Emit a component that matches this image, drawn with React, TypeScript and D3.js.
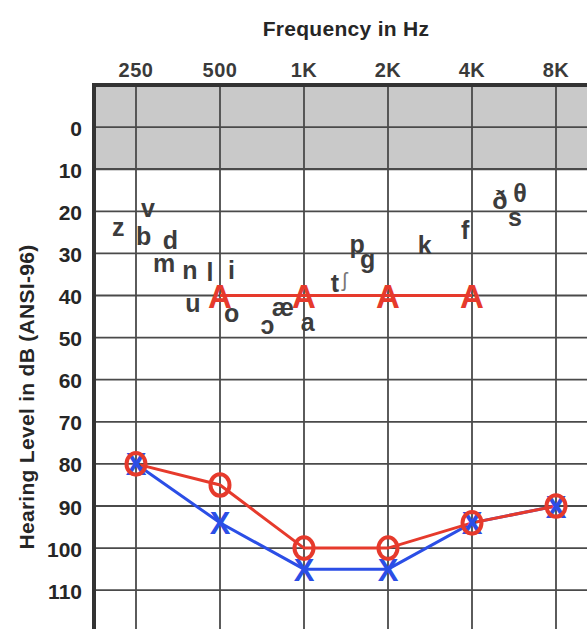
import React from 'react';
import * as d3 from 'd3';

const W = 587;
const H = 629;

// audiogram frequencies (Hz) and their labels
const freqs = [250, 500, 1000, 2000, 4000, 8000];
const freqLabels = ['250', '500', '1K', '2K', '4K', '8K'];
const dbTicks = [0, 10, 20, 30, 40, 50, 60, 70, 80, 90, 100, 110];

// thresholds
const circleDb = [80, 85, 100, 100, 94, 90];
const crossDb = [80, 94, 105, 105, 94, 90];
const aidedFreqs = [500, 1000, 2000, 4000];
const aidedDb = [40, 40, 40, 40];

// speech sounds (hz, db)
const phonemeSym = ['z', 'v', 'b', 'd', 'm', 'n', 'l', 'i', 'u', 'o', 'ɔ', 'æ', 'a', 't', 'ʃ', 'p', 'g', 'k', 'f', 'ð', 'θ', 's'];
const phonemeHz = [216, 276, 266, 332, 315, 390, 460, 550, 400, 550, 740, 840, 1030, 1290, 1400, 1550, 1690, 2710, 3780, 5030, 5940, 5700];
const phonemeDb = [23.8, 19.2, 25.9, 26.8, 32.3, 34, 34.4, 34, 41.8, 44.2, 47, 42.8, 46.3, 37, 36.3, 27.8, 31.4, 28, 24.5, 17.3, 15.7, 21.4];

const RED = '#e63a2c';
const BLUE = '#2b4ee6';
const INK = '#262626';
const FONT = '"Liberation Sans", Arial, sans-serif';

export default function App() {
  const left = 94;
  const right = 598;
  const top = 85;

  const x = d3.scaleLog().base(2)
    .domain([250 / Math.SQRT2, 8000 * Math.SQRT2])
    .range([left, right]);
  const y = d3.scaleLinear().domain([-10, 120]).range([top, top + 130 * 4.21]);

  const line = d3.line<[number, number]>()
    .x(d => x(d[0]))
    .y(d => y(d[1]));

  const circlePts = freqs.map((f, i) => [f, circleDb[i]] as [number, number]);
  const crossPts = freqs.map((f, i) => [f, crossDb[i]] as [number, number]);
  const aidedPts = aidedFreqs.map((f, i) => [f, aidedDb[i]] as [number, number]);

  const gridColor = '#4a4a4a';

  return (
    <svg width={W} height={H} style={{ position: 'absolute', left: 0, top: 0 }} fontFamily={FONT}>
      <rect width={W} height={H} fill="#fff" />

      {/* shaded region above 10 dB */}
      <rect x={left} y={y(-10)} width={right - left} height={y(10) - y(-10)} fill="#c9c9c9" />

      {/* grid */}
      {freqs.map(f => (
        <line key={f} x1={x(f)} x2={x(f)} y1={y(-10)} y2={y(120)} stroke={gridColor} strokeWidth={1.8} />
      ))}
      {dbTicks.concat([120]).map(d => (
        <line key={d} x1={left} x2={right} y1={y(d)} y2={y(d)} stroke={gridColor} strokeWidth={d === 10 ? 2.2 : 1.8} />
      ))}
      <path d={`M${left},${y(120)}V${y(-10)}H${right}`} fill="none" stroke="#333" strokeWidth={4} />

      {/* titles */}
      <text x={346} y={28} textAnchor="middle" dominantBaseline="central" fontSize={21} fontWeight="bold" fill={INK} letterSpacing={0.3}>
        Frequency in Hz
      </text>
      {freqs.map((f, i) => (
        <text key={f} x={x(f)} y={70} textAnchor="middle" dominantBaseline="central" fontSize={20} fontWeight="bold" fill="#3a3a3a" letterSpacing={0.5}>
          {freqLabels[i]}
        </text>
      ))}
      {dbTicks.map(d => (
        <text key={d} x={82} y={y(d) + 1} textAnchor="end" dominantBaseline="central" fontSize={21} fontWeight="bold" fill={INK}>
          {d}
        </text>
      ))}
      <text transform={`translate(26,${397}) rotate(-90)`} textAnchor="middle" dominantBaseline="central" fontSize={21} fontWeight="bold" fill={INK} letterSpacing={0.3}>
        Hearing Level in dB (ANSI-96)
      </text>

      {/* speech sounds */}
      {phonemeSym.map((s, i) => (
        <text key={i} x={x(phonemeHz[i])} y={y(phonemeDb[i])} textAnchor="middle" dominantBaseline="central"
          fontSize={s === 'ʃ' ? 20 : 25} fontWeight={s === 'ʃ' ? 'normal' : 'bold'} fill={s === 'ʃ' ? '#777' : '#3c3c3c'}>
          {s}
        </text>
      ))}

      {/* aided line */}
      <path d={line(aidedPts) || ''} fill="none" stroke={RED} strokeWidth={3} />
      {aidedPts.map((p, i) => (
        <text key={i} x={x(p[0])} y={y(p[1]) + 1} textAnchor="middle" dominantBaseline="central" fontSize={33} fontWeight="bold" fill={RED}>
          A
        </text>
      ))}

      {/* blue X */}
      <path d={line(crossPts) || ''} fill="none" stroke={BLUE} strokeWidth={3} />
      {/* red O */}
      <path d={line(circlePts) || ''} fill="none" stroke={RED} strokeWidth={3} />
      {crossPts.map((p, i) => (
        <text key={i} x={x(p[0])} y={y(p[1]) + 1} textAnchor="middle" dominantBaseline="central" fontSize={31} fontWeight="bold" fill={BLUE}>
          X
        </text>
      ))}
      {circlePts.map((p, i) => (
        <ellipse key={i} cx={x(p[0])} cy={y(p[1])} rx={9.5} ry={10.8} fill="none" stroke={RED} strokeWidth={4} />
      ))}
    </svg>
  );
}
